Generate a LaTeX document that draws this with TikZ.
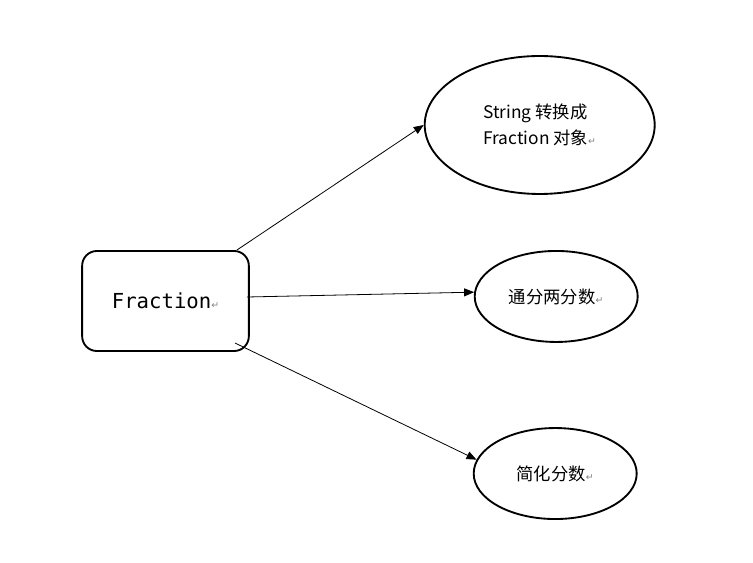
\documentclass[tikz,border=0pt]{standalone}
\usepackage{fontspec}
\newfontfamily\cjk{Noto Sans CJK SC}
\newfontfamily\codefont{DejaVu Sans Mono}
\newfontfamily\markfont{DejaVu Sans}
\usepackage{tikz}
\usetikzlibrary{
  arrows.meta,
  calc,
  positioning,
  shapes,
}
\tikzstyle{arrow} = [
  -{Triangle[length=7.5pt,width=6pt]},
  line width=0.6pt,
  black,
]
\tikzstyle{task} = [
  ellipse,
  draw,
  line width=1.4pt,
  inner sep=0pt,
  font=\cjk\fontsize{13}{19.5}\selectfont,
]
\newcommand{\retmark}{{\markfont\fontsize{7}{7}\selectfont\color{gray}↵}}

\begin{document}
\begin{tikzpicture}[node distance=0mm and 0mm]
      \useasboundingbox (-124.125pt,225.75pt) rectangle (440.625pt,-196.5pt);

      \node[rectangle,draw,line width=1.4pt,rounded corners=11pt,minimum width=125,minimum height=75,font=\codefont\fontsize{15.5}{18}\selectfont] (frac) at (0,0) {Fraction\retmark};

      \node[task,minimum width=172.5,minimum height=103.5,xshift=130.5,yshift=132,align=left] (conv) [right=of frac] {String 转换成\\Fraction 对象\retmark};
      \node[task,minimum width=122.25,minimum height=68.25,xshift=168,yshift=3.4] (comm) [right=of frac] {通分两分数\retmark};
      \node[task,minimum width=122.25,minimum height=68.25,xshift=167.25,yshift=-129.4] (simp) [right=of frac] {简化分数\retmark};

      \coordinate (out1) at ($(frac.center)+(53.6pt,38.25pt)$);
      \coordinate (out2) at ($(frac.center)+(61.1pt,3pt)$);
      \coordinate (out3) at ($(frac.center)+(52.1pt,-31.5pt)$);

      \draw[arrow] (out1) -- (conv.west);
      \draw[arrow] (out2) -- (comm.177);
      \draw[arrow] (out3) -- (simp.170);
\end{tikzpicture}
\end{document}
